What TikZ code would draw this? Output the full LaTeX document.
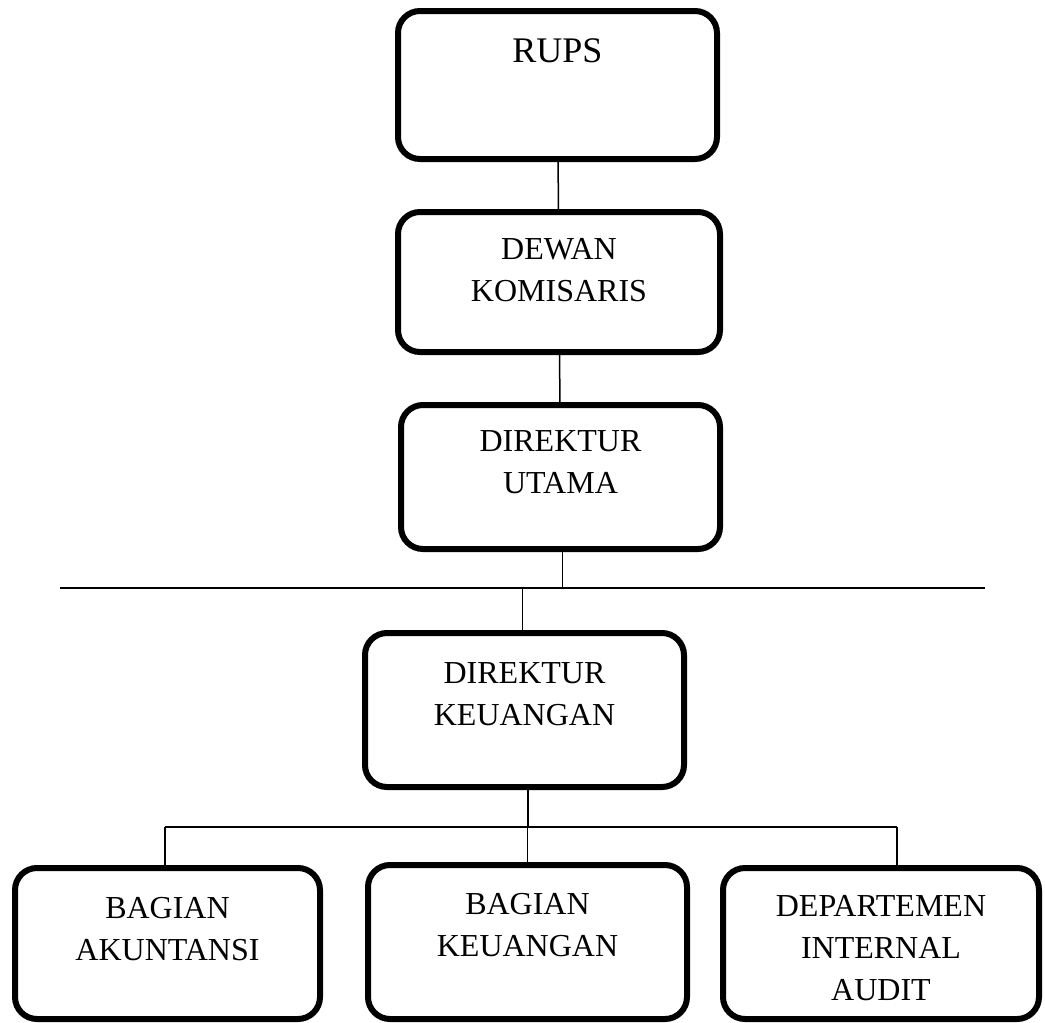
\documentclass[tikz,border=0pt]{standalone}
\usepackage{fontspec}
\setmainfont{Liberation Serif}
\usepackage{tikz}
\usetikzlibrary{positioning}
\tikzstyle{unit} = [rectangle, rounded corners=22pt, draw=black, line width=6pt, inner sep=0pt]
\tikzstyle{unittext} = [inner sep=0pt, align=center, font=\fontsize{32}{42}\selectfont]
\tikzstyle{link} = [line width=1.5pt]

\begin{document}
\begin{tikzpicture}[x=1pt, y=-1pt]
    \useasboundingbox (0,0) rectangle (1045,1023);

    % Top of the structure
    \node (rups) [unit, minimum width=319pt, minimum height=148pt] at (557.5,85) {};
    \node (rupst) [unittext, font=\fontsize{36}{42}\selectfont, below=30pt of rups.north] {RUPS};
    \node (dewan) [unit, minimum width=322pt, minimum height=140pt] at (559,282) {};
    \node (dewant) [unittext, below=29pt of dewan.north] {DEWAN\\KOMISARIS};
    \node (dirut) [unit, minimum width=319pt, minimum height=144pt] at (560.5,477) {};
    \node (dirutt) [unittext, below=28pt of dirut.north] {DIREKTUR\\UTAMA};

    \draw [link] (rups) -- (dewan);
    \draw [link] (dewan) -- (dirut);

    % Long bar
    \coordinate (barL) at (60,588);
    \coordinate (barR) at (985,588);
    \draw [line width=2pt] (barL) -- (barR);
    \draw [link] ([xshift=2pt]dirut.south) -- ([xshift=2pt]dirut.south |- barL);

    % Finance director
    \node (dirkeu) [unit, minimum width=319pt, minimum height=154pt] at (524.5,710) {};
    \node (dirkeut) [unittext, below=32pt of dirkeu.north] {DIREKTUR\\KEUANGAN};
    \draw [link] ([xshift=-2pt]dirkeu.north |- barL) -- ([xshift=-2pt]dirkeu.north);

    % Departments
    \node (akt) [unit, minimum width=305pt, minimum height=151pt] at (167.5,943.5) {};
    \node (aktt) [unittext, below=32pt of akt.north] {BAGIAN\\AKUNTANSI};
    \node (keu) [unit, minimum width=319pt, minimum height=154pt] at (527.5,942) {};
    \node (keut) [unittext, below=31pt of keu.north] {BAGIAN\\KEUANGAN};
    \node (audit) [unit, minimum width=316pt, minimum height=151pt] at (881,943.5) {};
    \node (auditt) [unittext, below=30pt of audit.north] {DEPARTEMEN\\INTERNAL\\AUDIT};

    \coordinate (branch) at (528,827);
    \draw [link] ([xshift=3.5pt]dirkeu.south) -- ([xshift=3.5pt]dirkeu.south |- branch);
    \draw [link] ([xshift=-2.5pt]akt.north |- branch) -- ([xshift=16pt]audit.north |- branch);
    \draw [link] ([xshift=-2.5pt]akt.north |- branch) -- ([xshift=-2.5pt]akt.north);
    \draw [link] (keu.north |- branch) -- (keu.north);
    \draw [link] ([xshift=16pt]audit.north |- branch) -- ([xshift=16pt]audit.north);
\end{tikzpicture}
\end{document}
